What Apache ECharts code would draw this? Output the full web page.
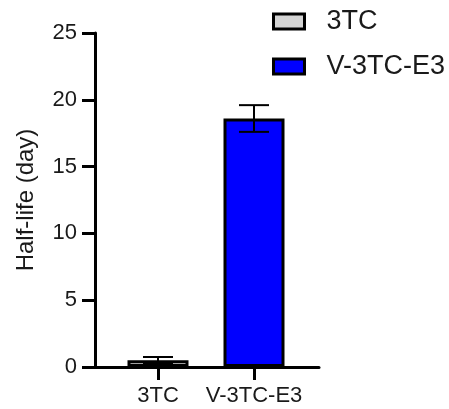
<!DOCTYPE html>
<html>
<head>
<meta charset="utf-8">
<script src="https://cdn.jsdelivr.net/npm/echarts@6/dist/echarts.min.js"></script>
<style>
  html, body { margin: 0; padding: 0; background: #fff; }
  #chart { width: 449px; height: 409px; }
</style>
</head>
<body>
<div id="chart"></div>
<script>
// Half-life of the two formulations (mean ± SD, days)
const categories = ['3TC', 'V-3TC-E3'];
const halfLife = [0.5, 18.6];
const halfLifeSD = [0.25, 1.0];
const barColors = ['#d4d4d4', '#0000ff'];
const yTicks = [0, 5, 10, 15, 20, 25];

const FONT = 'Liberation Sans, Arial, sans-serif';
const chart = echarts.init(document.getElementById('chart'), null, { renderer: 'canvas' });

const barSeries = categories.map((name, i) => ({
  name: name,
  type: 'bar',
  xAxisIndex: 1,
  yAxisIndex: 1,
  barWidth: 61,
  barGap: '-100%',
  data: categories.map((c, j) => (j === i ? halfLife[j] : '-')),
  itemStyle: { color: barColors[i], borderColor: '#000', borderWidth: 3 },
  z: 2
}));

const errorSeries = {
  type: 'custom',
  xAxisIndex: 1,
  yAxisIndex: 1,
  z: 5,
  data: categories.map((c, i) => [i, halfLife[i] - halfLifeSD[i], halfLife[i] + halfLifeSD[i]]),
  renderItem: function (params, api) {
    const lo = api.coord([api.value(0), api.value(1)]);
    const hi = api.coord([api.value(0), api.value(2)]);
    const half = 15;
    const style = { stroke: '#000', lineWidth: 2 };
    return {
      type: 'group',
      children: [
        { type: 'line', shape: { x1: hi[0], y1: hi[1], x2: lo[0], y2: lo[1] }, style: style },
        { type: 'line', shape: { x1: hi[0] - half, y1: hi[1], x2: hi[0] + half, y2: hi[1] }, style: style },
        { type: 'line', shape: { x1: lo[0] - half, y1: lo[1], x2: lo[0] + half, y2: lo[1] }, style: style }
      ]
    };
  }
};

chart.setOption({
  animation: false,
  backgroundColor: '#fff',
  textStyle: { fontFamily: FONT },
  legend: {
    orient: 'vertical',
    left: 272,
    top: 8,
    padding: 0,
    itemWidth: 31,
    itemHeight: 15,
    itemGap: 18,
    icon: 'rect',
    data: categories,
    textStyle: { fontSize: 27, lineHeight: 27, color: '#1a1a1a', padding: [0, 0, 0, 17], fontFamily: FONT },
    itemStyle: { borderColor: '#000', borderWidth: 3 }
  },
  grid: [
    { left: 95, right: 130, top: 33, bottom: 42 },
    { left: 110, width: 192, top: 33, bottom: 42 }
  ],
  xAxis: [
    {
      type: 'value', gridIndex: 0, min: 0, max: 1,
      axisLine: { show: true, lineStyle: { color: '#000', width: 3 } },
      axisTick: { show: false }, axisLabel: { show: false }, splitLine: { show: false }
    },
    {
      type: 'category', gridIndex: 1, data: categories, boundaryGap: true,
      axisLine: { show: false },
      axisTick: { show: true, alignWithLabel: true, interval: 0, length: 13, lineStyle: { color: '#000', width: 3 } },
      axisLabel: { fontSize: 22, interval: 0, color: '#1a1a1a', margin: 18, fontFamily: FONT },
      splitLine: { show: false }
    }
  ],
  yAxis: [
    {
      type: 'value', gridIndex: 0, min: yTicks[0], max: yTicks[yTicks.length - 1], interval: 5,
      name: 'Half-life (day)', nameLocation: 'middle', nameGap: 57,
      nameTextStyle: { fontSize: 24, color: '#1a1a1a', fontFamily: FONT },
      axisLine: { show: true, lineStyle: { color: '#000', width: 3 } },
      axisTick: { show: true, length: 13, lineStyle: { color: '#000', width: 3 } },
      axisLabel: { fontSize: 22, color: '#1a1a1a', margin: 18, fontFamily: FONT },
      splitLine: { show: false }
    },
    {
      type: 'value', gridIndex: 1, min: yTicks[0], max: yTicks[yTicks.length - 1], interval: 5,
      show: false, splitLine: { show: false }
    }
  ],
  series: barSeries.concat([errorSeries])
});
</script>
</body>
</html>
